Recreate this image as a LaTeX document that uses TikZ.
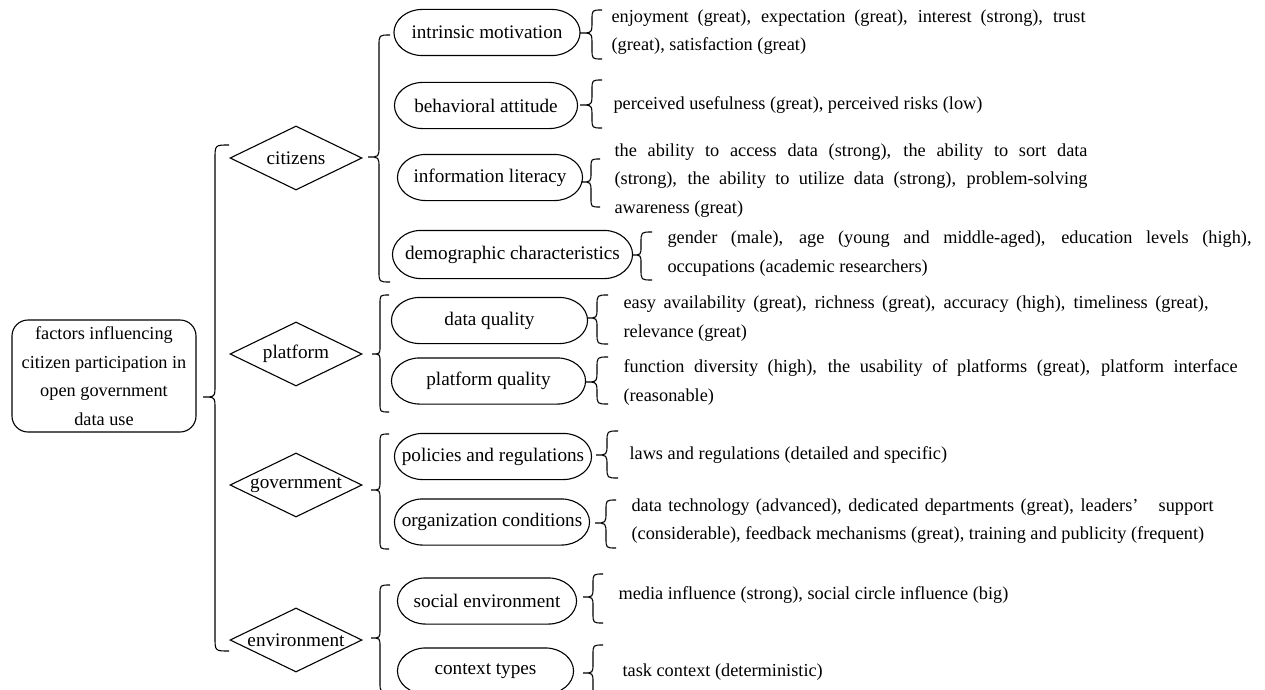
\documentclass[tikz,border=0pt]{standalone}
\usepackage{fontspec}
\setmainfont{Liberation Serif}
\usetikzlibrary{shapes.geometric}
\newcommand\mybrace[6]{% xa ytop xv xt ym ybot
  \draw (#1,#2) .. controls (#3,#2) .. (#3,{#2+#1-#3}) -- (#3,{#5-(#3-#4)})
    .. controls (#3,#5) .. (#4,#5) .. controls (#3,#5) .. (#3,{#5+(#3-#4)})
    -- (#3,{#6-(#1-#3)}) .. controls (#3,#6) .. (#1,#6);}
\newcommand\ovaloutline[1]{%
  \draw ([xshift=28pt]#1.north west) -- ([xshift=-28pt]#1.north east)
    .. controls ([xshift=-12.5pt]#1.north east) and ([yshift=12.4pt]#1.east) .. (#1.east)
    .. controls ([yshift=-12.4pt]#1.east) and ([xshift=-12.5pt]#1.south east) .. ([xshift=-28pt]#1.south east)
    -- ([xshift=28pt]#1.south west)
    .. controls ([xshift=12.5pt]#1.south west) and ([yshift=-12.4pt]#1.west) .. (#1.west)
    .. controls ([yshift=12.4pt]#1.west) and ([xshift=12.5pt]#1.north west) .. cycle;}
\begin{document}
\begin{tikzpicture}[x=1pt,y=-1pt,line width=1.1pt,
  stad/.style={rectangle, minimum height=45pt, inner sep=0pt, font=\fontsize{19.2}{22}\selectfont},
  dia/.style={draw, diamond, minimum width=132pt, minimum height=64pt, inner sep=0pt, font=\fontsize{19.2}{22}\selectfont},
  desc/.style={anchor=west, inner sep=0pt, align=left, font=\fontsize{18.3}{28.5}\selectfont},
  rootbox/.style={draw, rounded corners=16pt, minimum width=184pt, minimum height=112pt, align=center, inner sep=0pt, font=\fontsize{18.3}{28.5}\selectfont}]
\useasboundingbox (0,0) rectangle (1265,690);

\node[rootbox] (root) at (104,376) {factors influencing\\citizen participation in\\open government\\data use};

\node[dia] (cit) at (296,158) {\makebox[0pt]{citizens}};
\node[dia] (pla) at (296,354) {\makebox[0pt]{platform}};
\node[dia] (gov) at (296,485) {\makebox[0pt]{government}};
\node[dia] (env) at (296,640) {\makebox[0pt]{environment}};

\node[stad, minimum width=185pt] (im) at (487,32.5) {intrinsic motivation};
\node[stad, minimum width=182pt] (ba) at (486,105.5) {behavioral attitude};
\node[stad, minimum width=184pt] (il) at (490,177.5) {information literacy};
\node[stad, minimum width=239pt, minimum height=47pt] (dc) at (512.5,254.5) {demographic characteristics};
\node[stad, minimum width=195pt] (dq) at (489.5,320.5) {data quality};
\node[stad, minimum width=193pt] (pq) at (488.5,381) {platform quality};
\node[stad, minimum width=196pt] (pr) at (493,456.5) {policies and regulations};
\node[stad, minimum width=194pt] (oc) at (492,522) {organization conditions};
\node[stad, minimum width=178pt] (se) at (487,601) {social environment};
\node[stad, minimum width=175pt] (ct) at (485.5,671) {context types};
\foreach \n in {im,ba,il,dc,dq,pq,pr,oc,se,ct} {\ovaloutline{\n}}

\node[desc] (d1) at (611,32) {\makebox[474pt][s]{enjoyment (great), expectation (great), interest (strong), trust}\\(great), satisfaction (great)};
\node[desc] (d2) at (613,105) {perceived usefulness (great), perceived risks (low)};
\node[desc] (d3) at (614,180.5) {\makebox[473pt][s]{the ability to access data (strong), the ability to sort data}\\\makebox[473pt][s]{(strong), the ability to utilize data (strong), problem-solving}\\awareness (great)};
\node[desc] (d4) at (667,253.5) {\makebox[584pt][s]{gender (male), age (young and middle-aged), education levels (high),}\\occupations (academic researchers)};
\node[desc] (d5) at (623,318.5) {\makebox[585pt][s]{easy availability (great), richness (great), accuracy (high), timeliness (great),}\\relevance (great)};
\node[desc] (d6) at (623,382.5) {\makebox[614pt][s]{function diversity (high), the usability of platforms (great), platform interface}\\(reasonable)};
\node[desc] (d7) at (629,455) {laws and regulations (detailed and specific)};
\node[desc] (d8) at (631,521) {\makebox[582pt][s]{data technology (advanced), dedicated departments (great), leaders’\hspace{14pt} support}\\(considerable), feedback mechanisms (great), training and publicity (frequent)};
\node[desc] (d9) at (618,595) {media influence (strong), social circle influence (big)};
\node[desc] (d10) at (622,672) {task context (deterministic)};

% big brace
\mybrace{229}{145}{215}{203}{397}{651}
% second level
\mybrace{390}{35}{379}{368}{157}{282}
\mybrace{389}{295}{380}{372}{354}{412}
\mybrace{389}{434}{380}{371}{490}{549}
\mybrace{390}{585}{380}{371}{638}{692}
% third level
\mybrace{602}{10}{592}{580}{33}{59}
\mybrace{602}{80}{592}{580}{105}{128}
\mybrace{600}{159}{591}{581}{182}{207}
\mybrace{652}{232}{641}{632}{255}{280}
\mybrace{608}{295}{597}{587}{318}{344}
\mybrace{608}{357}{597}{585}{382}{404}
\mybrace{618}{431}{607}{596}{455}{478}
\mybrace{616}{500}{606}{595}{523}{548}
\mybrace{603}{574}{593}{583}{597}{623}
\mybrace{603}{645}{593}{583}{673}{700}
\end{tikzpicture}
\end{document}
